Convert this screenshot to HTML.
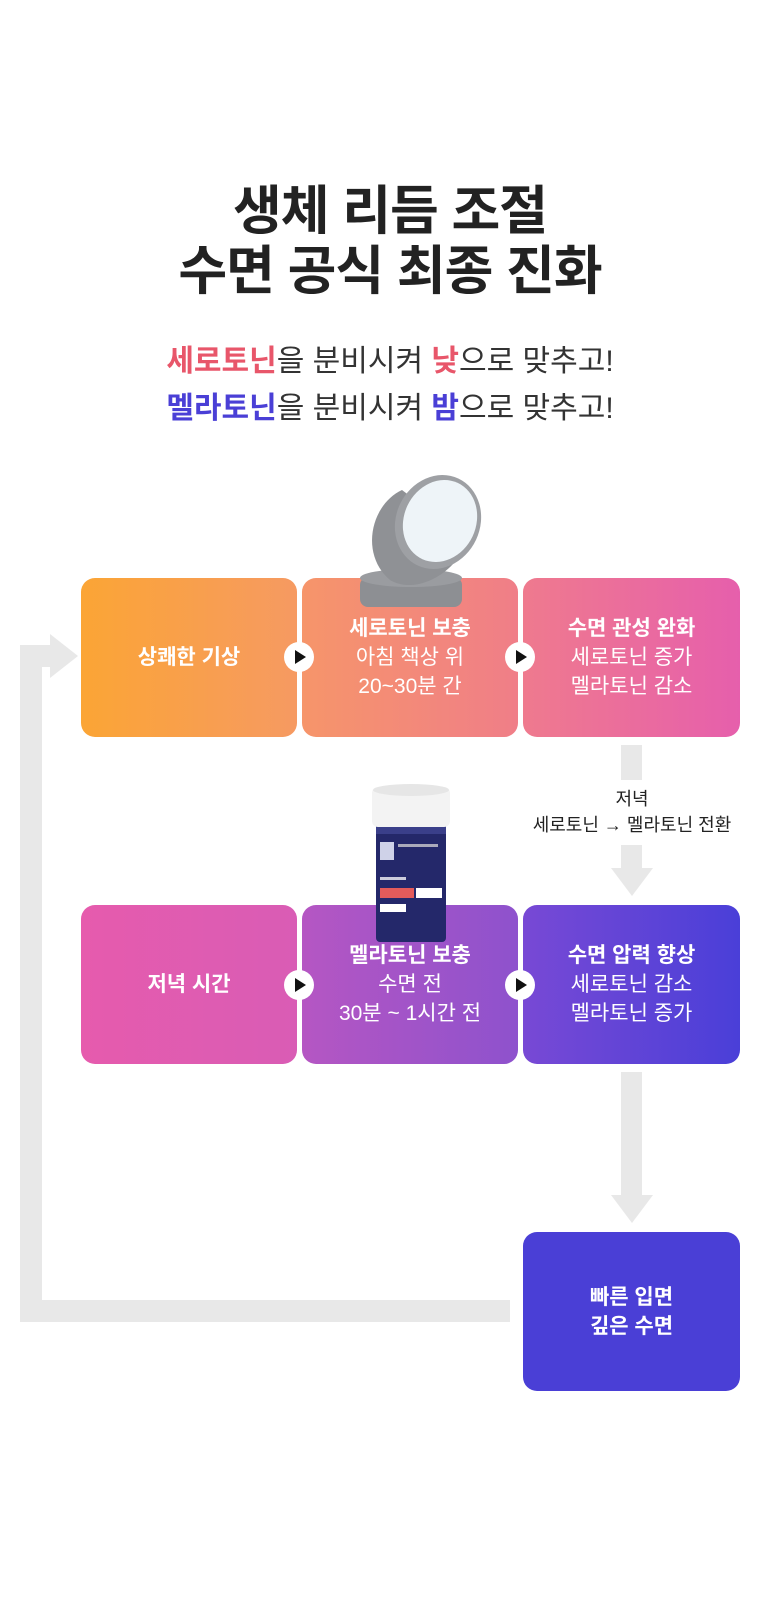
<!DOCTYPE html>
<html><head><meta charset="utf-8"><style>
*{margin:0;padding:0;box-sizing:border-box}
body{width:780px;height:1608px;background:#fff;position:relative;overflow:hidden;font-family:"Liberation Sans","Noto Sans CJK KR",sans-serif}
.t{position:absolute;left:0;width:780px;text-align:center;color:#222}
.box{position:absolute;border-radius:14px;color:#fff;display:flex;flex-direction:column;align-items:center;justify-content:center;text-align:center;font-size:21px;line-height:29px}
.box b{font-weight:700}
.g{position:absolute;background:#e8e8e8}
.play{position:absolute;width:30px;height:30px;border-radius:50%;background:#fff;z-index:3}
.play:after{content:"";position:absolute;left:11px;top:8px;border-left:11px solid #111;border-top:7px solid transparent;border-bottom:7px solid transparent}
</style></head><body>
<div class="t" style="top:182px;font-size:53px;font-weight:700;line-height:60px;letter-spacing:-1px">생체 리듬 조절<br>수면 공식 최종 진화</div>
<div class="t" style="top:338px;font-size:30px;line-height:47px;color:#333"><span style="color:#e8566a;font-weight:700">세로토닌</span>을 분비시켜 <span style="color:#e8566a;font-weight:700">낮</span>으로 맞추고!<br><span style="color:#4a3fd6;font-weight:700">멜라토닌</span>을 분비시켜 <span style="color:#4a3fd6;font-weight:700">밤</span>으로 맞추고!</div>

<div class="g" style="left:20px;top:645px;width:22px;height:677px"></div>
<div class="g" style="left:20px;top:1300px;width:490px;height:22px"></div>
<div class="g" style="left:20px;top:645px;width:32px;height:22px"></div>
<div style="position:absolute;left:50px;top:634px;border-left:28px solid #e8e8e8;border-top:22px solid transparent;border-bottom:22px solid transparent"></div>
<div class="g" style="left:621px;top:745px;width:21px;height:35px"></div>
<div class="g" style="left:621px;top:845px;width:21px;height:25px"></div>
<div style="position:absolute;left:611px;top:868px;border-top:28px solid #e8e8e8;border-left:21px solid transparent;border-right:21px solid transparent"></div>
<div class="g" style="left:621px;top:1072px;width:21px;height:125px"></div>
<div style="position:absolute;left:611px;top:1195px;border-top:28px solid #e8e8e8;border-left:21px solid transparent;border-right:21px solid transparent"></div>
<div class="t" style="left:520px;width:224px;top:786px;font-size:18px;line-height:26px;color:#222">저녁<br>세로토닌 → 멜라토닌 전환</div>

<div class="box" style="left:81px;top:578px;width:216px;height:159px;background:linear-gradient(90deg,#fba535,#f69a62)"><b>상쾌한 기상</b></div>
<div class="box" style="left:302px;top:578px;width:216px;height:159px;background:linear-gradient(90deg,#f6956a,#f07e88)"><b>세로토닌 보충</b>아침 책상 위<br>20~30분 간</div>
<div class="box" style="left:523px;top:578px;width:217px;height:159px;background:linear-gradient(90deg,#ef7a8e,#e65fac)"><b>수면 관성 완화</b>세로토닌 증가<br>멜라토닌 감소</div>
<div class="play" style="left:284px;top:642px"></div>
<div class="play" style="left:505px;top:642px"></div>

<svg style="position:absolute;left:340px;top:460px;z-index:4" width="160" height="160">
<rect x="20" y="117" width="102" height="30" rx="8" fill="#8d8f93"/>
<ellipse cx="71" cy="118" rx="51" ry="9" fill="#9a9ca0"/>
<path d="M62 30 C30 45 20 95 50 120 C75 135 115 115 128 80 Z" fill="#8f9195"/>
<ellipse cx="98" cy="62" rx="42" ry="48" transform="rotate(25 98 62)" fill="#9ea0a4"/>
<ellipse cx="100" cy="61" rx="36" ry="42" transform="rotate(25 100 61)" fill="#eef4f8"/>
</svg>

<div class="box" style="left:81px;top:905px;width:216px;height:159px;background:linear-gradient(90deg,#e65bad,#d95cb5)"><b>저녁 시간</b></div>
<div class="box" style="left:302px;top:905px;width:216px;height:159px;background:linear-gradient(90deg,#b556c3,#8e52cd)"><b>멜라토닌 보충</b>수면 전<br>30분 ~ 1시간 전</div>
<div class="box" style="left:523px;top:905px;width:217px;height:159px;background:linear-gradient(90deg,#7849d5,#4a3fd8)"><b>수면 압력 향상</b>세로토닌 감소<br>멜라토닌 증가</div>
<div class="play" style="left:284px;top:970px"></div>
<div class="play" style="left:505px;top:970px"></div>

<svg style="position:absolute;left:368px;top:782px;z-index:4" width="86" height="160">
<rect x="8" y="40" width="70" height="120" rx="4" fill="#24286a"/>
<rect x="8" y="40" width="70" height="12" fill="#3a3f8a"/>
<rect x="4" y="5" width="78" height="40" rx="6" fill="#f3f3f3"/>
<ellipse cx="43" cy="8" rx="38" ry="6" fill="#e6e6e6"/>
<rect x="12" y="60" width="14" height="18" fill="#cfd2e8"/>
<rect x="30" y="62" width="40" height="3" fill="#aab"/>
<rect x="12" y="95" width="26" height="3" fill="#ccd"/>
<rect x="12" y="106" width="34" height="10" fill="#e35b5b"/>
<rect x="48" y="106" width="26" height="10" fill="#fff"/>
<rect x="12" y="122" width="26" height="8" fill="#fff"/>
</svg>

<div class="box" style="left:523px;top:1232px;width:217px;height:159px;background:#4a3fd6"><b>빠른 입면<br>깊은 수면</b></div>
</body></html>
